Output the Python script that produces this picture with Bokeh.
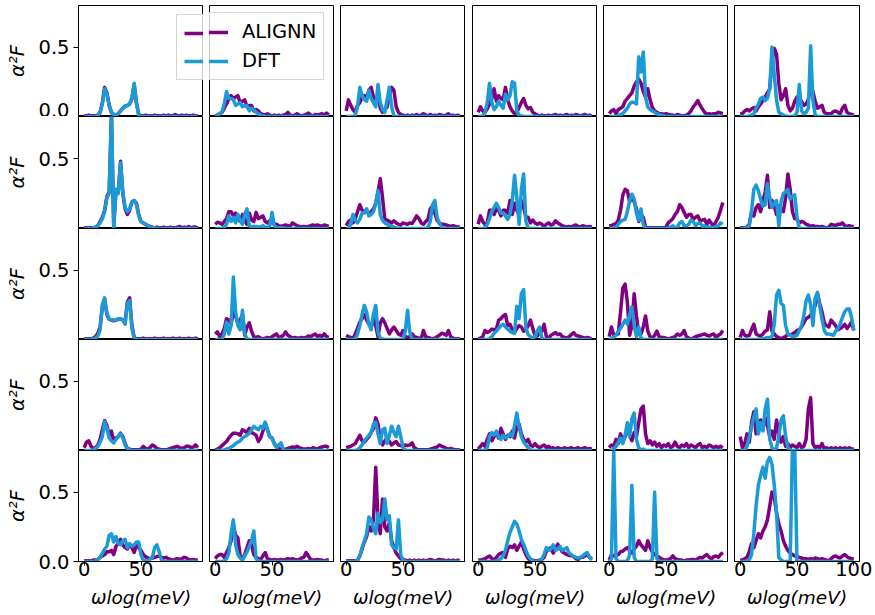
from bokeh.plotting import figure
from bokeh.models import Range1d, FixedTicker, PrintfTickFormatter, Legend, LegendItem
from bokeh.layouts import column, row
from bokeh.embed import file_html
from bokeh.resources import INLINE

# Phonon energy grid (meV)
energy = [0, 2, 4, 6, 8, 10, 12, 14, 16, 18,
          20, 22, 24, 26, 28, 30, 32, 34, 36, 38,
          40, 42, 44, 46, 48, 50, 52, 54, 56, 58,
          60, 62, 64, 66, 68, 70, 72, 74, 76, 78,
          80, 82, 84, 86, 88, 90, 92, 94, 96, 98,
          100]

x_ticks = [0, 50]
x_ticks_last = [0, 50, 100]
y_ticks_full = [0.0, 0.5]
y_ticks_mid = [0.5]
series_names = ["ALIGNN", "DFT"]
y_title = "α²F"
x_title = "ωlog(meV)"

# ---------------- row 1 ----------------
alignn_r1c1 = [0.005, 0.005, 0.01, 0.005, 0.005, 0.005, 0.01, 0.03, 0.1, 0.21,
               0.17, 0.08, 0.03, 0.015, 0.01, 0.02, 0.04, 0.06, 0.075, 0.08,
               0.09, 0.13, 0.23, 0.1, 0.015, 0.005, 0.005, 0.01, 0.005, 0.005,
               0.005, 0.01, 0.005, 0.005, 0.005, 0.01, 0.005, 0.01, 0.005, 0.005,
               0.015, 0.005, 0.005, 0.01, 0.005, 0.01, 0.005, 0.005, 0.01, 0.005,
               0.005]
dft_r1c1 = [0, 0, 0, 0, 0, 0, 0.005, 0.03, 0.09, 0.2,
            0.16, 0.08, 0.03, 0.015, 0.01, 0.02, 0.04, 0.06, 0.07, 0.08,
            0.09, 0.13, 0.24, 0.09, 0.01, 0, 0, 0, 0, 0,
            0, 0, 0, 0, 0, 0, 0, 0, 0, 0,
            0, 0, 0, 0, 0, 0, 0, 0, 0, 0,
            0]
alignn_r1c2 = [0.005, 0.01, 0.02, 0.03, 0.06, 0.09, 0.13, 0.15, 0.13, 0.14,
               0.15, 0.1, 0.11, 0.12, 0.07, 0.08, 0.08, 0.04, 0.05, 0.04,
               0.02, 0.015, 0.01, 0.02, 0.01, 0.005, 0.01, 0.005, 0.01, 0.005,
               0.01, 0.015, 0.03, 0.01, 0.005, 0.01, 0.02, 0.01, 0.005, 0.01,
               0.015, 0.025, 0.01, 0.005, 0.015, 0.01, 0.015, 0.02, 0.01, 0.025,
               0.01]
dft_r1c2 = [0, 0.005, 0.02, 0.035, 0.09, 0.18, 0.13, 0.13, 0.12, 0.08,
            0.09, 0.1, 0.07, 0.08, 0.08, 0.04, 0.06, 0.05, 0.03, 0.02,
            0.01, 0.005, 0, 0, 0, 0, 0, 0, 0, 0,
            0, 0, 0, 0, 0, 0, 0, 0, 0, 0,
            0, 0, 0, 0, 0, 0, 0, 0, 0, 0,
            0]
alignn_r1c3 = [0.04, 0.12, 0.08, 0.05, 0.03, 0.08, 0.1, 0.14, 0.15, 0.13,
               0.19, 0.21, 0.14, 0.12, 0.16, 0.06, 0.03, 0.05, 0.07, 0.15,
               0.21, 0.19, 0.07, 0.03, 0.015, 0.01, 0.005, 0.01, 0.005, 0.01,
               0.005, 0.015, 0.005, 0.01, 0.02, 0.01, 0.005, 0.015, 0.005, 0.01,
               0.005, 0.015, 0.01, 0.005, 0.01, 0.02, 0.005, 0.01, 0.005, 0.01,
               0.005]
dft_r1c3 = [0, 0, 0, 0, 0.01, 0.07, 0.21, 0.15, 0.12, 0.11,
            0.19, 0.13, 0.1, 0.07, 0.23, 0.1, 0.05, 0.03, 0.12, 0.21,
            0.07, 0.005, 0, 0, 0, 0, 0, 0, 0, 0,
            0, 0, 0, 0, 0, 0, 0, 0, 0, 0,
            0, 0, 0, 0, 0, 0, 0, 0, 0, 0,
            0]
alignn_r1c4 = [0.03, 0.07, 0.04, 0.03, 0.055, 0.09, 0.13, 0.2, 0.11, 0.15,
               0.13, 0.12, 0.21, 0.12, 0.07, 0.04, 0.02, 0.03, 0.065, 0.1,
               0.13, 0.08, 0.055, 0.065, 0.03, 0.02, 0.01, 0.005, 0.01, 0.005,
               0.005, 0.01, 0.005, 0.01, 0.015, 0.005, 0.01, 0.005, 0.01, 0.015,
               0.005, 0.01, 0.005, 0.015, 0.01, 0.005, 0.01, 0.015, 0.005, 0.01,
               0.005]
dft_r1c4 = [0, 0, 0.005, 0.03, 0.1, 0.24, 0.1, 0.05, 0.07, 0.11,
            0.08, 0.06, 0.16, 0.12, 0.15, 0.25, 0.24, 0.04, 0.01, 0.005,
            0, 0, 0, 0, 0, 0, 0, 0, 0, 0,
            0, 0, 0, 0, 0, 0, 0, 0, 0, 0,
            0, 0, 0, 0, 0, 0, 0, 0, 0, 0,
            0]
alignn_r1c5 = [0.02, 0.04, 0.05, 0.02, 0.05, 0.06, 0.07, 0.11, 0.13, 0.15,
               0.17, 0.22, 0.25, 0.27, 0.24, 0.18, 0.14, 0.2, 0.12, 0.065,
               0.04, 0.03, 0.02, 0.02, 0.015, 0.02, 0.015, 0.01, 0.01, 0.005,
               0.015, 0.01, 0.005, 0.005, 0.01, 0.02, 0.04, 0.07, 0.09, 0.115,
               0.08, 0.055, 0.03, 0.015, 0.02, 0.015, 0.02, 0.02, 0.03, 0.025,
               0.02]
dft_r1c5 = [0, 0, 0, 0, 0.005, 0.015, 0.02, 0.04, 0.06, 0.09,
            0.105, 0.1, 0.09, 0.43, 0.32, 0.465, 0.14, 0.07, 0.05, 0.04,
            0.03, 0.02, 0.015, 0.01, 0.005, 0, 0, 0, 0, 0,
            0, 0, 0, 0, 0, 0, 0, 0, 0, 0,
            0, 0, 0, 0, 0, 0, 0, 0, 0, 0,
            0]
alignn_r1c6 = [0.02, 0.02, 0.04, 0.05, 0.04, 0.055, 0.065, 0.04, 0.07, 0.09,
               0.115, 0.14, 0.17, 0.2, 0.4, 0.49, 0.45, 0.24, 0.12, 0.15,
               0.2, 0.08, 0.04, 0.06, 0.11, 0.14, 0.12, 0.11, 0.08, 0.09,
               0.125, 0.22, 0.18, 0.11, 0.06, 0.07, 0.08, 0.03, 0.02, 0.02,
               0.02, 0.035, 0.04, 0.03, 0.02, 0.06, 0.08, 0.03, 0.02, 0.015,
               0.01]
dft_r1c6 = [0, 0, 0, 0, 0.005, 0.01, 0.02, 0.06, 0.09, 0.13,
            0.14, 0.115, 0.13, 0.2, 0.5, 0.3, 0.12, 0.03, 0.02, 0.01,
            0.005, 0, 0, 0, 0.005, 0.03, 0.23, 0.04, 0.02, 0.03,
            0.06, 0.51, 0.12, 0.01, 0, 0, 0, 0, 0, 0,
            0, 0, 0, 0, 0, 0, 0, 0, 0, 0,
            0]

# ---------------- row 2 ----------------
alignn_r2c1 = [0.005, 0.005, 0.005, 0.005, 0.005, 0.01, 0.02, 0.05, 0.08, 0.13,
               0.23, 0.26, 0.8, 0.02, 0.27, 0.26, 0.48, 0.25, 0.14, 0.1,
               0.13, 0.19, 0.2, 0.18, 0.1, 0.05, 0.04, 0.03, 0.02, 0.015,
               0.01, 0.005, 0.01, 0.005, 0.005, 0.01, 0.005, 0.005, 0.01, 0.005,
               0.005, 0.01, 0.015, 0.005, 0.01, 0.005, 0.015, 0.005, 0.01, 0.01,
               0.005]
dft_r2c1 = [0, 0, 0, 0, 0.005, 0.01, 0.02, 0.04, 0.07, 0.12,
            0.22, 0.25, 0.84, 0.0, 0.28, 0.25, 0.47, 0.26, 0.15, 0.12,
            0.14, 0.19, 0.2, 0.17, 0.09, 0.05, 0.04, 0.03, 0.02, 0.01,
            0.005, 0.005, 0, 0, 0, 0, 0, 0, 0, 0,
            0, 0, 0, 0, 0, 0, 0, 0, 0, 0,
            0]
alignn_r2c2 = [0.03, 0.045, 0.04, 0.03, 0.05, 0.07, 0.12, 0.12, 0.09, 0.11,
               0.08, 0.05, 0.1, 0.06, 0.03, 0.11, 0.06, 0.05, 0.115, 0.07,
               0.08, 0.09, 0.05, 0.04, 0.055, 0.04, 0.035, 0.03, 0.02, 0.015,
               0.02, 0.025, 0.02, 0.015, 0.04, 0.03, 0.02, 0.015, 0.01, 0.015,
               0.01, 0.015, 0.02, 0.025, 0.02, 0.025, 0.02, 0.015, 0.025, 0.02,
               0.015]
dft_r2c2 = [0, 0, 0, 0, 0.01, 0.03, 0.09, 0.05, 0.08, 0.04,
            0.1, 0.06, 0.03, 0.1, 0.14, 0.02, 0.01, 0.015, 0.015, 0.01,
            0.01, 0.02, 0.01, 0.005, 0.02, 0.115, 0.02, 0.005, 0.005, 0.005,
            0.005, 0, 0, 0, 0, 0, 0, 0, 0, 0,
            0, 0, 0, 0, 0, 0, 0, 0, 0, 0,
            0]
alignn_r2c3 = [0.02, 0.05, 0.06, 0.04, 0.07, 0.12, 0.17, 0.13, 0.12, 0.13,
               0.1, 0.12, 0.14, 0.18, 0.26, 0.355, 0.22, 0.065, 0.06, 0.05,
               0.04, 0.055, 0.04, 0.03, 0.025, 0.04, 0.035, 0.03, 0.04, 0.035,
               0.06, 0.09, 0.07, 0.04, 0.03, 0.05, 0.065, 0.14, 0.16, 0.11,
               0.06, 0.04, 0.03, 0.03, 0.025, 0.02, 0.015, 0.02, 0.015, 0.01,
               0.01]
dft_r2c3 = [0, 0, 0.03, 0.1, 0.06, 0.04, 0.065, 0.11, 0.11, 0.14,
            0.09, 0.1, 0.12, 0.18, 0.27, 0.1, 0.06, 0.04, 0.03, 0.02,
            0.015, 0.01, 0.005, 0, 0, 0, 0, 0, 0, 0,
            0, 0, 0, 0, 0, 0, 0.01, 0.05, 0.17, 0.2,
            0.08, 0.04, 0.01, 0, 0, 0, 0, 0, 0, 0,
            0]
alignn_r2c4 = [0.03, 0.09, 0.05, 0.03, 0.04, 0.13, 0.13, 0.1, 0.14, 0.13,
               0.09, 0.13, 0.13, 0.11, 0.2, 0.1, 0.18, 0.13, 0.1, 0.2,
               0.15, 0.08, 0.08, 0.04, 0.06, 0.04, 0.03, 0.04, 0.03, 0.015,
               0.03, 0.04, 0.025, 0.03, 0.055, 0.04, 0.03, 0.02, 0.015, 0.01,
               0.015, 0.01, 0.02, 0.025, 0.015, 0.01, 0.02, 0.015, 0.01, 0.015,
               0.01]
dft_r2c4 = [0, 0, 0, 0.005, 0.03, 0.07, 0.12, 0.15, 0.18, 0.15,
            0.11, 0.11, 0.09, 0.065, 0.1, 0.2, 0.38, 0.22, 0.03, 0.28,
            0.39, 0.05, 0.005, 0, 0, 0, 0, 0, 0, 0,
            0, 0, 0, 0, 0, 0, 0, 0, 0, 0,
            0, 0, 0, 0, 0, 0, 0, 0, 0, 0,
            0]
alignn_r2c5 = [0.02, 0.02, 0.03, 0.035, 0.06, 0.13, 0.24, 0.28, 0.27, 0.19,
               0.22, 0.19, 0.14, 0.05, 0.1, 0.08, 0.01, 0.005, 0.005, 0.005,
               0.005, 0.005, 0.005, 0.005, 0.005, 0.01, 0.04, 0.055, 0.07, 0.1,
               0.12, 0.17, 0.15, 0.115, 0.08, 0.1, 0.1, 0.065, 0.08, 0.09,
               0.055, 0.06, 0.065, 0.03, 0.06, 0.035, 0.02, 0.05, 0.08, 0.13,
               0.185]
dft_r2c5 = [0, 0, 0, 0.01, 0.03, 0.05, 0.06, 0.065, 0.12, 0.2,
            0.245, 0.21, 0.11, 0.06, 0.14, 0.03, 0, 0, 0, 0,
            0, 0, 0, 0, 0, 0, 0, 0.01, 0.02, 0.005,
            0.01, 0.04, 0.05, 0.02, 0.02, 0.03, 0.06, 0.05, 0.02, 0.035,
            0.04, 0.015, 0.02, 0.01, 0.01, 0.005, 0.01, 0.01, 0.02, 0.04,
            0.03]
alignn_r2c6 = [0.005, 0.005, 0.005, 0.01, 0.03, 0.12, 0.09, 0.15, 0.17, 0.12,
               0.2, 0.26, 0.38, 0.15, 0.2, 0.16, 0.1, 0.16, 0.14, 0.12,
               0.22, 0.39, 0.28, 0.12, 0.07, 0.065, 0.04, 0.05, 0.045, 0.03,
               0.025, 0.015, 0.02, 0.015, 0.015, 0.01, 0.015, 0.01, 0.005, 0.01,
               0.03, 0.025, 0.02, 0.03, 0.03, 0.04, 0.02, 0.015, 0.02, 0.015,
               0.015]
dft_r2c6 = [0, 0, 0, 0.005, 0.02, 0.12, 0.28, 0.31, 0.27, 0.21,
            0.16, 0.17, 0.32, 0.22, 0.15, 0.18, 0.2, 0.02, 0.19, 0.25,
            0.26, 0.28, 0.21, 0.23, 0.24, 0.08, 0, 0, 0, 0,
            0, 0, 0, 0, 0, 0, 0, 0, 0, 0,
            0, 0, 0, 0, 0, 0, 0, 0, 0, 0,
            0]

# ---------------- row 3 ----------------
alignn_r3c1 = [0.005, 0.005, 0.005, 0.005, 0.01, 0.02, 0.045, 0.09, 0.24, 0.29,
               0.18, 0.145, 0.14, 0.135, 0.14, 0.145, 0.15, 0.14, 0.12, 0.27,
               0.3, 0.1, 0.015, 0.005, 0.005, 0.005, 0.01, 0.005, 0.005, 0.005,
               0.005, 0.01, 0.005, 0.005, 0.005, 0.01, 0.005, 0.005, 0.005, 0.01,
               0.005, 0.005, 0.01, 0.005, 0.005, 0.005, 0.01, 0.005, 0.005, 0.01,
               0.005]
dft_r3c1 = [0, 0, 0, 0, 0.005, 0.01, 0.025, 0.07, 0.25, 0.3,
            0.19, 0.15, 0.14, 0.14, 0.14, 0.15, 0.15, 0.14, 0.11, 0.26,
            0.28, 0.08, 0.01, 0, 0, 0, 0, 0, 0, 0,
            0, 0, 0, 0, 0, 0, 0, 0, 0, 0,
            0, 0, 0, 0, 0, 0, 0, 0, 0, 0,
            0]
alignn_r3c2 = [0.04, 0.055, 0.02, 0.04, 0.08, 0.15, 0.14, 0.11, 0.2, 0.17,
               0.11, 0.14, 0.18, 0.03, 0.09, 0.12, 0.06, 0.02, 0.015, 0.02,
               0.01, 0.005, 0.01, 0.015, 0.01, 0.02, 0.03, 0.04, 0.015, 0.02,
               0.03, 0.055, 0.03, 0.02, 0.01, 0.015, 0.01, 0.01, 0.015, 0.01,
               0.015, 0.025, 0.02, 0.03, 0.04, 0.02, 0.03, 0.02, 0.04, 0.02,
               0.015]
dft_r3c2 = [0, 0, 0, 0, 0.04, 0.125, 0.04, 0.1, 0.45, 0.2,
            0.1, 0.07, 0.21, 0.04, 0.005, 0, 0, 0, 0, 0,
            0, 0, 0, 0, 0, 0, 0, 0, 0, 0,
            0, 0, 0, 0, 0, 0, 0, 0, 0, 0,
            0, 0, 0, 0, 0, 0, 0, 0, 0, 0,
            0]
alignn_r3c3 = [0.03, 0.02, 0.015, 0.005, 0.04, 0.08, 0.125, 0.15, 0.18, 0.14,
               0.11, 0.09, 0.15, 0.1, 0.02, 0.12, 0.15, 0.12, 0.08, 0.04,
               0.07, 0.09, 0.065, 0.04, 0.03, 0.065, 0.02, 0.015, 0.02, 0.04,
               0.02, 0.015, 0.01, 0.005, 0.065, 0.02, 0.015, 0.01, 0.005, 0.01,
               0.02, 0.03, 0.045, 0.04, 0.03, 0.065, 0.02, 0.01, 0.005, 0.005,
               0.005]
dft_r3c3 = [0, 0, 0, 0, 0.005, 0.04, 0.1, 0.18, 0.245, 0.2,
            0.11, 0.07, 0.185, 0.245, 0.05, 0.01, 0.005, 0, 0, 0,
            0, 0, 0, 0, 0, 0, 0.06, 0.21, 0.05, 0,
            0, 0, 0, 0, 0, 0, 0, 0, 0, 0,
            0, 0, 0, 0, 0, 0, 0, 0, 0, 0,
            0]
alignn_r3c4 = [0.005, 0.01, 0.02, 0.065, 0.05, 0.06, 0.075, 0.07, 0.075, 0.14,
               0.15, 0.17, 0.18, 0.1, 0.11, 0.07, 0.05, 0.08, 0.1, 0.09,
               0.06, 0.07, 0.1, 0.14, 0.08, 0.03, 0.025, 0.05, 0.06, 0.11,
               0.02, 0.01, 0.03, 0.04, 0.05, 0.035, 0.04, 0.02, 0.015, 0.01,
               0.02, 0.035, 0.05, 0.03, 0.025, 0.02, 0.015, 0.01, 0.015, 0.01,
               0.005]
dft_r3c4 = [0, 0, 0, 0, 0, 0.005, 0.02, 0.045, 0.06, 0.08,
            0.1, 0.11, 0.09, 0.075, 0.06, 0.05, 0.045, 0.24, 0.15, 0.33,
            0.36, 0.08, 0.035, 0.02, 0.01, 0.02, 0.06, 0.09, 0.01, 0,
            0, 0, 0, 0, 0, 0, 0, 0, 0, 0,
            0, 0, 0, 0, 0, 0, 0, 0, 0, 0,
            0]
alignn_r3c5 = [0.02, 0.09, 0.03, 0.035, 0.04, 0.2, 0.37, 0.4, 0.27, 0.03,
               0.1, 0.33, 0.17, 0.04, 0.04, 0.09, 0.17, 0.06, 0.02, 0.01,
               0.03, 0.06, 0.02, 0.015, 0.015, 0.01, 0.005, 0.01, 0.015, 0.02,
               0.04, 0.03, 0.04, 0.065, 0.02, 0.01, 0.005, 0.01, 0.02, 0.025,
               0.03, 0.035, 0.04, 0.03, 0.025, 0.035, 0.04, 0.015, 0.03, 0.04,
               0.065]
dft_r3c5 = [0, 0.005, 0.02, 0.03, 0.06, 0.08, 0.11, 0.14, 0.11, 0.18,
            0.235, 0.1, 0.02, 0.09, 0.01, 0, 0, 0, 0, 0,
            0, 0, 0, 0, 0, 0, 0, 0, 0, 0,
            0, 0, 0, 0, 0, 0, 0, 0, 0, 0,
            0, 0, 0, 0, 0, 0, 0, 0, 0, 0,
            0]
alignn_r3c6 = [0.015, 0.065, 0.03, 0.025, 0.03, 0.07, 0.11, 0.04, 0.03, 0.025,
               0.04, 0.06, 0.07, 0.2, 0.06, 0.04, 0.02, 0.015, 0.005, 0.015,
               0.02, 0.04, 0.03, 0.04, 0.05, 0.065, 0.07, 0.09, 0.12, 0.15,
               0.16, 0.175, 0.21, 0.245, 0.33, 0.26, 0.2, 0.12, 0.1, 0.09,
               0.14, 0.12, 0.1, 0.07, 0.08, 0.09, 0.11, 0.08, 0.1, 0.125,
               0.065]
dft_r3c6 = [0, 0, 0, 0, 0, 0, 0, 0, 0, 0.005,
            0.005, 0.01, 0.015, 0.015, 0.02, 0.11, 0.32, 0.355, 0.26, 0.245,
            0.1, 0.04, 0.03, 0.02, 0.025, 0.03, 0.065, 0.1, 0.17, 0.28,
            0.32, 0.25, 0.1, 0.3, 0.34, 0.24, 0.15, 0.065, 0.04, 0.04,
            0.035, 0.03, 0.06, 0.08, 0.11, 0.16, 0.2, 0.22, 0.22, 0.16,
            0.065]

# ---------------- row 4 ----------------
alignn_r4c1 = [0.02, 0.06, 0.07, 0.03, 0.015, 0.02, 0.04, 0.08, 0.15, 0.215,
               0.18, 0.11, 0.14, 0.07, 0.09, 0.1, 0.125, 0.1, 0.05, 0.015,
               0.01, 0.005, 0.005, 0.005, 0.005, 0.01, 0.03, 0.015, 0.01, 0.02,
               0.04, 0.03, 0.015, 0.01, 0.005, 0.005, 0.005, 0.01, 0.015, 0.02,
               0.025, 0.03, 0.02, 0.015, 0.02, 0.03, 0.03, 0.02, 0.025, 0.04,
               0.02]
dft_r4c1 = [0, 0, 0, 0, 0.005, 0.015, 0.03, 0.06, 0.1, 0.205,
            0.16, 0.09, 0.07, 0.055, 0.08, 0.1, 0.12, 0.09, 0.04, 0.015,
            0.005, 0, 0, 0, 0, 0, 0, 0, 0, 0,
            0, 0, 0, 0, 0, 0, 0, 0, 0, 0,
            0, 0, 0, 0, 0, 0, 0, 0, 0, 0,
            0]
alignn_r4c2 = [0.005, 0.01, 0.02, 0.035, 0.05, 0.065, 0.09, 0.11, 0.125, 0.125,
               0.12, 0.11, 0.15, 0.14, 0.13, 0.16, 0.13, 0.12, 0.11, 0.065,
               0.09, 0.14, 0.2, 0.15, 0.1, 0.09, 0.05, 0.03, 0.015, 0.01,
               0.005, 0.01, 0.015, 0.02, 0.025, 0.02, 0.03, 0.02, 0.015, 0.01,
               0.01, 0.015, 0.01, 0.02, 0.015, 0.01, 0.02, 0.025, 0.03, 0.03,
               0.02]
dft_r4c2 = [0, 0, 0, 0, 0.005, 0.01, 0.015, 0.025, 0.035, 0.05,
            0.06, 0.07, 0.09, 0.1, 0.11, 0.125, 0.15, 0.175, 0.16, 0.15,
            0.175, 0.16, 0.205, 0.15, 0.1, 0.09, 0.05, 0.02, 0.04, 0.055,
            0.005, 0, 0, 0, 0, 0, 0, 0, 0, 0,
            0, 0, 0, 0, 0, 0, 0, 0, 0, 0,
            0]
alignn_r4c3 = [0.02, 0.025, 0.03, 0.04, 0.05, 0.08, 0.11, 0.07, 0.06, 0.08,
               0.1, 0.13, 0.16, 0.235, 0.19, 0.08, 0.04, 0.07, 0.09, 0.065,
               0.04, 0.055, 0.065, 0.04, 0.035, 0.03, 0.04, 0.035, 0.04, 0.055,
               0.02, 0.01, 0.005, 0.005, 0.005, 0.005, 0.005, 0.01, 0.015, 0.02,
               0.025, 0.04, 0.03, 0.025, 0.015, 0.01, 0.015, 0.01, 0.005, 0.005,
               0.005]
dft_r4c3 = [0, 0, 0, 0, 0, 0.005, 0.02, 0.04, 0.07, 0.09,
            0.11, 0.13, 0.19, 0.205, 0.12, 0.05, 0.15, 0.16, 0.05, 0.11,
            0.175, 0.13, 0.1, 0.175, 0.1, 0.02, 0.005, 0, 0, 0,
            0, 0, 0, 0, 0, 0, 0, 0, 0, 0,
            0, 0, 0, 0, 0, 0, 0, 0, 0, 0,
            0]
alignn_r4c4 = [0.01, 0.03, 0.05, 0.03, 0.08, 0.12, 0.07, 0.1, 0.13, 0.09,
               0.16, 0.12, 0.08, 0.11, 0.1, 0.14, 0.09, 0.17, 0.19, 0.12,
               0.08, 0.06, 0.08, 0.04, 0.03, 0.05, 0.03, 0.02, 0.03, 0.04,
               0.02, 0.03, 0.015, 0.02, 0.01, 0.02, 0.015, 0.01, 0.02, 0.01,
               0.015, 0.02, 0.01, 0.015, 0.02, 0.01, 0.015, 0.02, 0.01, 0.015,
               0.01]
dft_r4c4 = [0, 0, 0, 0.005, 0.02, 0.1, 0.13, 0.11, 0.14, 0.1,
            0.08, 0.11, 0.09, 0.1, 0.12, 0.1, 0.18, 0.27, 0.17, 0.1,
            0.06, 0.04, 0.02, 0.005, 0, 0, 0, 0, 0, 0,
            0, 0, 0, 0, 0, 0, 0, 0, 0, 0,
            0, 0, 0, 0, 0, 0, 0, 0, 0, 0,
            0]
alignn_r4c5 = [0.02, 0.04, 0.03, 0.08, 0.05, 0.12, 0.06, 0.1, 0.15, 0.11,
               0.07, 0.13, 0.1, 0.2, 0.3, 0.32, 0.12, 0.05, 0.07, 0.04,
               0.06, 0.03, 0.05, 0.02, 0.04, 0.03, 0.05, 0.02, 0.03, 0.06,
               0.03, 0.02, 0.04, 0.03, 0.05, 0.02, 0.04, 0.03, 0.02, 0.04,
               0.05, 0.02, 0.03, 0.02, 0.04, 0.03, 0.02, 0.03, 0.02, 0.03,
               0.02]
dft_r4c5 = [0, 0, 0.01, 0.03, 0.06, 0.09, 0.05, 0.11, 0.2, 0.1,
            0.23, 0.27, 0.08, 0.02, 0.005, 0.01, 0, 0, 0, 0,
            0, 0, 0, 0, 0, 0, 0, 0, 0, 0,
            0, 0, 0, 0, 0, 0, 0, 0, 0, 0,
            0, 0, 0, 0, 0, 0, 0, 0, 0, 0,
            0]
alignn_r4c6 = [0.1, 0.02, 0.05, 0.12, 0.06, 0.2, 0.28, 0.12, 0.18, 0.22,
               0.15, 0.24, 0.18, 0.1, 0.14, 0.08, 0.22, 0.12, 0.06, 0.1,
               0.03, 0.05, 0.02, 0.04, 0.03, 0.02, 0.05, 0.02, 0.03, 0.08,
               0.3, 0.38, 0.05, 0.02, 0.03, 0.02, 0.05, 0.01, 0.02, 0.01,
               0.02, 0.01, 0.02, 0.01, 0.02, 0.01, 0.02, 0.01, 0.02, 0.01,
               0.01]
dft_r4c6 = [0, 0, 0, 0.03, 0.1, 0.17, 0.24, 0.3, 0.12, 0.2,
            0.14, 0.3, 0.37, 0.08, 0.02, 0, 0.02, 0.1, 0.22, 0.25,
            0.1, 0.02, 0, 0, 0, 0, 0, 0, 0, 0,
            0, 0, 0, 0, 0, 0, 0, 0, 0, 0,
            0, 0, 0, 0, 0, 0, 0, 0, 0, 0,
            0]

# ---------------- row 5 ----------------
alignn_r5c1 = [0.005, 0.005, 0.005, 0.005, 0.01, 0.01, 0.015, 0.03, 0.04, 0.05,
               0.07, 0.07, 0.08, 0.05, 0.11, 0.13, 0.16, 0.12, 0.1, 0.09,
               0.12, 0.1, 0.065, 0.12, 0.1, 0.08, 0.05, 0.035, 0.025, 0.02,
               0.025, 0.03, 0.035, 0.04, 0.03, 0.025, 0.03, 0.02, 0.015, 0.01,
               0.015, 0.02, 0.015, 0.02, 0.03, 0.025, 0.015, 0.01, 0.015, 0.01,
               0.01]
dft_r5c1 = [0, 0, 0, 0, 0, 0.005, 0.015, 0.03, 0.06, 0.09,
            0.11, 0.19, 0.2, 0.14, 0.18, 0.13, 0.12, 0.15, 0.16, 0.1,
            0.13, 0.11, 0.12, 0.14, 0.14, 0.05, 0.01, 0.005, 0.005, 0.02,
            0.03, 0.1, 0.12, 0.07, 0.01, 0, 0, 0, 0, 0,
            0, 0, 0, 0, 0, 0, 0, 0, 0, 0,
            0]
alignn_r5c2 = [0.02, 0.04, 0.05, 0.05, 0.03, 0.065, 0.1, 0.15, 0.26, 0.19,
               0.17, 0.04, 0.02, 0.05, 0.1, 0.15, 0.12, 0.05, 0.03, 0.02,
               0.015, 0.04, 0.065, 0.02, 0.015, 0.01, 0.015, 0.01, 0.01, 0.015,
               0.01, 0.015, 0.02, 0.015, 0.02, 0.015, 0.01, 0.015, 0.025, 0.03,
               0.065, 0.04, 0.015, 0.01, 0.01, 0.015, 0.01, 0.01, 0.005, 0.01,
               0.01]
dft_r5c2 = [0, 0, 0, 0, 0.005, 0.02, 0.06, 0.2, 0.3, 0.12,
            0.05, 0.025, 0.01, 0.04, 0.07, 0.11, 0.15, 0.22, 0.02, 0.005,
            0, 0, 0, 0, 0, 0, 0, 0, 0, 0,
            0, 0, 0, 0, 0, 0, 0, 0, 0, 0,
            0, 0, 0, 0, 0, 0, 0, 0, 0, 0,
            0]
alignn_r5c3 = [0.005, 0.005, 0.005, 0.005, 0.005, 0.01, 0.04, 0.09, 0.14, 0.18,
               0.25, 0.22, 0.3, 0.68, 0.3, 0.2, 0.45, 0.25, 0.22, 0.28,
               0.15, 0.1, 0.06, 0.04, 0.02, 0.015, 0.01, 0.005, 0.01, 0.005,
               0.01, 0.005, 0.01, 0.005, 0.01, 0.005, 0.01, 0.015, 0.01, 0.005,
               0.01, 0.015, 0.01, 0.01, 0.005, 0.01, 0.005, 0.01, 0.005, 0.01,
               0.005]
dft_r5c3 = [0, 0, 0, 0, 0, 0.01, 0.04, 0.1, 0.15, 0.2,
            0.32, 0.3, 0.24, 0.2, 0.35, 0.28, 0.3, 0.45, 0.3, 0.33,
            0.12, 0.1, 0.09, 0.3, 0.05, 0.01, 0, 0, 0, 0,
            0, 0, 0, 0, 0, 0, 0, 0, 0, 0,
            0, 0, 0, 0, 0, 0, 0, 0, 0, 0,
            0]
alignn_r5c4 = [0.01, 0.01, 0.015, 0.02, 0.03, 0.04, 0.02, 0.01, 0.03, 0.05,
               0.06, 0.065, 0.03, 0.09, 0.11, 0.1, 0.12, 0.08, 0.11, 0.14,
               0.09, 0.05, 0.02, 0.01, 0.01, 0.005, 0.005, 0.01, 0.015, 0.03,
               0.075, 0.09, 0.1, 0.06, 0.09, 0.125, 0.1, 0.07, 0.06, 0.05,
               0.045, 0.04, 0.035, 0.02, 0.015, 0.03, 0.03, 0.04, 0.05, 0.03,
               0.02]
dft_r5c4 = [0, 0, 0, 0, 0, 0, 0, 0, 0.005, 0.01,
            0.02, 0.04, 0.08, 0.15, 0.21, 0.25, 0.29, 0.27, 0.22, 0.16,
            0.125, 0.08, 0.04, 0.02, 0.005, 0, 0, 0.005, 0.02, 0.05,
            0.1, 0.08, 0.09, 0.12, 0.08, 0.09, 0.11, 0.08, 0.09, 0.1,
            0.06, 0.05, 0.035, 0.03, 0.025, 0.03, 0.04, 0.055, 0.065, 0.03,
            0.01]
alignn_r5c5 = [0.01, 0.05, 0.04, 0.045, 0.05, 0.07, 0.075, 0.09, 0.1, 0.08,
               0.06, 0.09, 0.11, 0.15, 0.12, 0.1, 0.08, 0.15, 0.1, 0.07,
               0.05, 0.04, 0.03, 0.02, 0.01, 0.01, 0.015, 0.02, 0.04, 0.02,
               0.015, 0.01, 0.01, 0.005, 0.01, 0.01, 0.015, 0.015, 0.01, 0.02,
               0.03, 0.025, 0.04, 0.05, 0.03, 0.02, 0.035, 0.04, 0.03, 0.05,
               0.065]
dft_r5c5 = [0, 0.02, 0.8, 0.02, 0, 0, 0, 0, 0.005, 0.05,
            0.55, 0.03, 0, 0, 0, 0, 0, 0, 0, 0.02,
            0.5, 0.02, 0, 0, 0, 0, 0, 0, 0, 0,
            0, 0, 0, 0, 0, 0, 0, 0, 0, 0,
            0, 0, 0, 0, 0, 0, 0, 0, 0, 0,
            0]
alignn_r5c6 = [0.01, 0.01, 0.02, 0.03, 0.07, 0.13, 0.1, 0.15, 0.2, 0.17,
               0.22, 0.25, 0.3, 0.4, 0.5, 0.46, 0.35, 0.27, 0.22, 0.15,
               0.11, 0.08, 0.06, 0.05, 0.04, 0.035, 0.03, 0.025, 0.02, 0.02,
               0.015, 0.02, 0.015, 0.025, 0.02, 0.015, 0.02, 0.015, 0.01, 0.005,
               0.02, 0.035, 0.04, 0.03, 0.025, 0.04, 0.05, 0.035, 0.025, 0.02,
               0.02]
dft_r5c6 = [0, 0, 0, 0, 0.01, 0.05, 0.2, 0.4, 0.55, 0.62,
            0.68, 0.6, 0.72, 0.75, 0.7, 0.55, 0.35, 0.03, 0.01, 0,
            0, 0, 0, 0.83, 0.83, 0, 0, 0, 0, 0,
            0, 0, 0, 0, 0, 0, 0, 0, 0, 0,
            0, 0, 0, 0, 0, 0, 0, 0, 0, 0,
            0]

panels = [
    [(alignn_r1c1, dft_r1c1), (alignn_r1c2, dft_r1c2), (alignn_r1c3, dft_r1c3),
     (alignn_r1c4, dft_r1c4), (alignn_r1c5, dft_r1c5), (alignn_r1c6, dft_r1c6)],
    [(alignn_r2c1, dft_r2c1), (alignn_r2c2, dft_r2c2), (alignn_r2c3, dft_r2c3),
     (alignn_r2c4, dft_r2c4), (alignn_r2c5, dft_r2c5), (alignn_r2c6, dft_r2c6)],
    [(alignn_r3c1, dft_r3c1), (alignn_r3c2, dft_r3c2), (alignn_r3c3, dft_r3c3),
     (alignn_r3c4, dft_r3c4), (alignn_r3c5, dft_r3c5), (alignn_r3c6, dft_r3c6)],
    [(alignn_r4c1, dft_r4c1), (alignn_r4c2, dft_r4c2), (alignn_r4c3, dft_r4c3),
     (alignn_r4c4, dft_r4c4), (alignn_r4c5, dft_r4c5), (alignn_r4c6, dft_r4c6)],
    [(alignn_r5c1, dft_r5c1), (alignn_r5c2, dft_r5c2), (alignn_r5c3, dft_r5c3),
     (alignn_r5c4, dft_r5c4), (alignn_r5c5, dft_r5c5), (alignn_r5c6, dft_r5c6)],
]

# ---------------- styling ----------------
FONT = "DejaVu Sans"
FS = "19.5px"
ALIGNN_COLOR = "#800080"
DFT_COLOR = "#1a9ad6"
LW = 3.5
FRAME_W = 125
frame_heights = [111, 112, 111, 111, 111]
left_borders = [78, 6, 6, 7, 6, 6]
BOTTOM_BORDER = 54


def fit(y):
    n = min(len(energy), len(y))
    return energy[:n], y[:n]


rows_of_figs = []
for r in range(5):
    figs = []
    for c in range(6):
        a_vals, d_vals = panels[r][c]
        p = figure(frame_width=FRAME_W, frame_height=frame_heights[r],
                   x_range=Range1d(-5, 105), y_range=Range1d(0, 0.8),
                   output_backend="svg", toolbar_location=None, tools="",
                   x_axis_location="below" if r == 4 else None,
                   y_axis_location="left" if c == 0 else None,
                   min_border_left=left_borders[c],
                   min_border_right=16 if c == 5 else 0,
                   min_border_top=5 if r == 0 else 0,
                   min_border_bottom=BOTTOM_BORDER if r == 4 else 0)
        p.background_fill_color = "white"
        p.border_fill_color = "white"
        p.outline_line_color = "black"
        p.outline_line_width = 1
        p.grid.visible = False

        xa, ya = fit(a_vals)
        xd, yd = fit(d_vals)
        ra = p.line(xa, ya, line_color=ALIGNN_COLOR, line_width=LW, line_join="round")
        rd = p.line(xd, yd, line_color=DFT_COLOR, line_width=LW, line_join="round")

        if c == 0:
            ax = p.yaxis[0]
            ax.ticker = FixedTicker(ticks=y_ticks_full if r in (0, 4) else y_ticks_mid)
            ax.formatter = PrintfTickFormatter(format="%.1f")
            ax.axis_label = y_title
            ax.axis_label_text_font = FONT
            ax.axis_label_text_font_size = FS
            ax.axis_label_text_font_style = "italic"
            ax.axis_label_text_color = "black"
            ax.axis_label_standoff = 6
            ax.major_label_text_font = FONT
            ax.major_label_text_font_size = FS
            ax.major_label_text_color = "black"
            ax.major_label_standoff = 4
            ax.major_tick_out = 5
            ax.major_tick_in = 0
            ax.minor_tick_line_color = None
            ax.axis_line_color = "black"

        if r == 4:
            ax = p.xaxis[0]
            ax.ticker = FixedTicker(ticks=x_ticks_last if c == 5 else x_ticks)
            ax.formatter = PrintfTickFormatter(format="%d")
            ax.major_label_text_font = FONT
            ax.major_label_text_font_size = FS
            ax.major_label_text_color = "black"
            ax.major_label_standoff = -4
            ax.major_tick_out = 4
            ax.major_tick_in = 0
            ax.minor_tick_line_color = None
            ax.axis_line_color = "black"
            ax.axis_label = x_title
            ax.axis_label_text_font = FONT
            ax.axis_label_text_font_size = "18.5px"
            ax.axis_label_text_font_style = "italic"
            ax.axis_label_text_color = "black"
            ax.axis_label_standoff = 8

        if r == 0 and c in (0, 1):
            labels = ["", ""] if c == 0 else series_names
            leg = Legend(items=[LegendItem(label=labels[0], renderers=[ra]),
                                LegendItem(label=labels[1], renderers=[rd])],
                         location=(98, 36) if c == 0 else (-33, 36))
            leg.label_text_font = FONT
            leg.label_text_font_size = FS
            leg.label_text_color = "black"
            leg.glyph_width = 44
            leg.glyph_height = 22
            leg.label_height = 22
            leg.label_standoff = 14
            leg.spacing = 6
            leg.padding = 7
            leg.margin = 0
            leg.background_fill_color = "white"
            leg.background_fill_alpha = 0.8
            leg.border_line_color = "#cccccc"
            leg.border_line_alpha = 0.8
            leg.border_line_width = 1
            p.add_layout(leg)
        figs.append(p)
    rows_of_figs.append(figs)

layout = column(*[row(*figs) for figs in rows_of_figs])

with open("out.html", "w") as f:
    f.write(file_html(layout, INLINE, title="alpha2F comparison"))
